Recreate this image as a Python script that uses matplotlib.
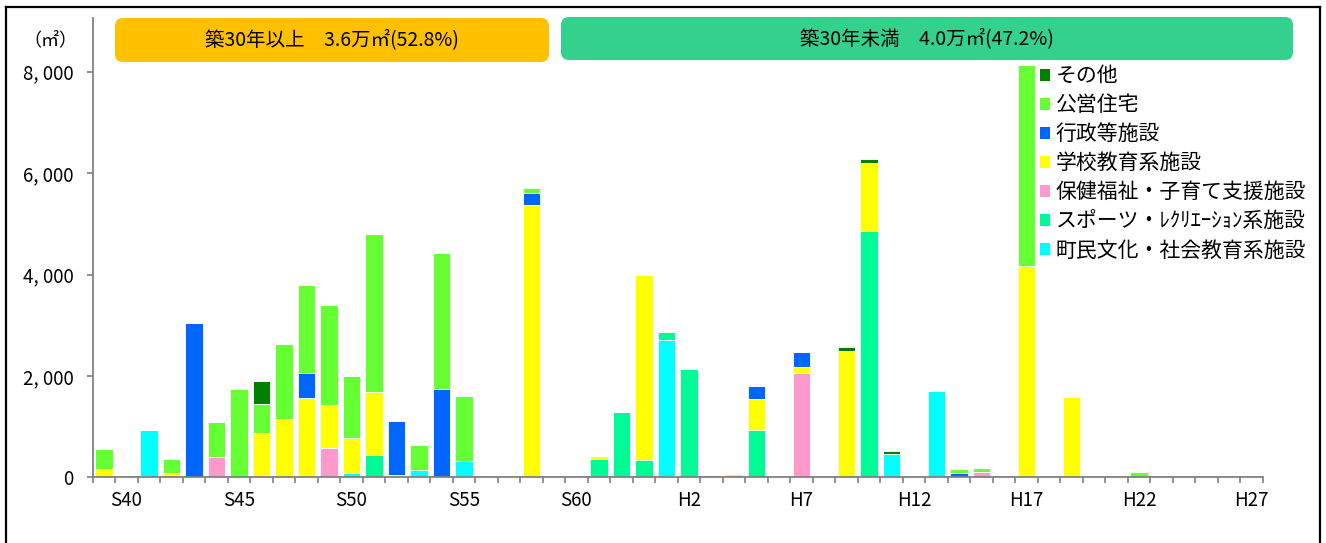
"""plot.py - floor area of public facilities by construction year (stacked bars)."""
import matplotlib
matplotlib.use("Agg")
import matplotlib.pyplot as plt
from matplotlib.patches import FancyBboxPatch, Patch
from matplotlib.lines import Line2D
import numpy as np

plt.rcParams["font.family"] = ["Noto Sans CJK JP", "DejaVu Sans"]

# categories: S39 .. S63, H1 .. H27 (one bar per year)
years = [f"S{n}" for n in range(39, 64)] + [f"H{n}" for n in range(1, 28)]
tick_years = ["S40", "S45", "S50", "S55", "S60", "H2", "H7", "H12", "H17", "H22", "H27"]

# values in m2 (index 0 = S39)
culture = [0, 0, 930, 0, 0, 0, 0, 0, 0, 0, 0, 80, 0,
           0, 140, 0, 315, 0, 0, 0, 0, 0, 0, 0, 0, 2700,
           0, 0, 0, 0, 0, 0, 0, 0, 0, 455, 0, 1700, 0,
           0, 0, 0, 0, 0, 0, 0, 0, 0, 0, 0, 0, 0]
sports = [0, 0, 0, 0, 0, 0, 0, 0, 0, 0, 0, 0, 445,
          0, 0, 0, 0, 0, 0, 0, 0, 0, 365, 1280, 335, 170,
          2135, 40, 0, 935, 0, 0, 0, 0, 4865, 0, 0, 0, 0,
          0, 0, 0, 0, 0, 0, 0, 0, 0, 0, 0, 0, 0]
welfare = [0, 0, 0, 0, 0, 410, 0, 0, 0, 0, 585, 0, 0,
           0, 0, 0, 0, 0, 0, 0, 0, 0, 0, 0, 0, 0,
           0, 0, 0, 0, 0, 2065, 0, 0, 0, 0, 0, 0, 0,
           110, 0, 0, 0, 0, 0, 0, 0, 0, 0, 0, 0, 0]
school = [170, 0, 0, 85, 0, 0, 0, 875, 1150, 1570, 840, 690, 1235,
          40, 0, 0, 0, 0, 0, 5370, 0, 0, 55, 0, 3655, 0,
          0, 0, 65, 615, 0, 115, 0, 2490, 1340, 0, 0, 0, 0,
          0, 0, 4165, 0, 1590, 0, 0, 0, 0, 0, 0, 0, 0]
admin = [0, 0, 0, 0, 3040, 0, 0, 0, 0, 495, 0, 0, 0,
         1065, 0, 1735, 0, 0, 0, 245, 0, 0, 0, 0, 0, 0,
         0, 0, 0, 245, 0, 295, 0, 0, 0, 0, 0, 0, 80,
         0, 0, 0, 0, 0, 0, 0, 0, 0, 0, 0, 0, 0]
housing = [394, 0, 0, 275, 0, 680, 1735, 565, 1485, 1735, 1965, 1225, 3115,
           0, 490, 2695, 1290, 0, 0, 85, 0, 0, 0, 0, 0, 0,
           0, 0, 0, 0, 0, 0, 0, 0, 0, 0, 0, 0, 80,
           65, 0, 3965, 0, 0, 0, 0, 105, 0, 0, 0, 0, 0]
other = [0, 0, 0, 0, 0, 0, 0, 455, 0, 0, 0, 0, 0,
         0, 0, 0, 0, 0, 0, 0, 0, 0, 0, 0, 0, 0,
         0, 0, 0, 0, 0, 0, 0, 75, 65, 60, 0, 0, 0,
         0, 0, 0, 0, 0, 0, 0, 0, 0, 0, 0, 0, 0]

# bottom to top
series = [
    ("町民文化・社会教育系施設", culture, "#00FFFF"),
    ("スポーツ・ﾚｸﾘｴｰｼｮﾝ系施設", sports, "#00FA96"),
    ("保健福祉・子育て支援施設", welfare, "#FF99CC"),
    ("学校教育系施設", school, "#FFFF00"),
    ("行政等施設", admin, "#0066FF"),
    ("公営住宅", housing, "#66FF33"),
    ("その他", other, "#008000"),
]

W, H = 1326, 543
fig = plt.figure(figsize=(W / 100, H / 100), dpi=100)
ax = fig.add_axes([92.7 / W, (H - 477.3) / H, 1170 / W, (477.3 - 18) / H])

x = np.arange(len(years))
bottom = np.zeros(len(years))
handles = []
for label, vals, color in series:
    vals = np.array(vals, dtype=float)
    ax.bar(x, vals, width=0.77, bottom=bottom, color=color,
           edgecolor="white", linewidth=0.6)
    bottom += vals
    handles.append(Patch(facecolor=color, edgecolor="none", label=label))

ax.set_xlim(-0.5, len(years) - 0.5)
ax.set_ylim(0, 9060)

gray = "#808080"
for side in ("top", "right"):
    ax.spines[side].set_visible(False)
for side in ("left", "bottom"):
    ax.spines[side].set_color(gray)
    ax.spines[side].set_linewidth(1.3)

# category boundaries as tick marks, labels every 5 years
ax.set_xticks(np.arange(len(years) + 1) - 0.5)
ax.set_xticklabels([])
ax.set_xticks([years.index(t) for t in tick_years], minor=True)
ax.set_xticklabels(tick_years, minor=True, fontsize=13.5)
ax.tick_params(axis="x", which="major", direction="out", length=4, width=1.2, color=gray)
ax.tick_params(axis="x", which="minor", length=0, pad=9)

yt = [0, 2000, 4000, 6000, 8000]
ax.set_yticks(yt)
ax.set_yticklabels(["0" if v == 0 else f"{v // 1000}, {v % 1000:03d}" for v in yt], fontsize=13.5)
ax.tick_params(axis="y", direction="out", length=4, width=1.2, color=gray, pad=10)

leg = fig.legend(handles=handles[::-1], loc="upper left",
                 bbox_to_anchor=(1040 / W, (H - 65) / H), frameon=False,
                 fontsize=15, handlelength=0.5, handleheight=0.5,
                 handletextpad=0.25, labelspacing=0.34, borderpad=0, borderaxespad=0)

# banners above the bars
inch = fig.dpi_scale_trans
banners = [
    (115, 549, 18, 62, "#FFC000", "築30年以上　3.6万㎡(52.8%)"),
    (561, 1293, 17, 60, "#33D18B", "築30年未満　4.0万㎡(47.2%)"),
]
for x0, x1, y0, y1, color, text in banners:
    box = FancyBboxPatch((x0 / 100, (H - y1) / 100), (x1 - x0) / 100, (y1 - y0) / 100,
                         boxstyle="round,pad=0,rounding_size=0.08", transform=inch,
                         facecolor=color, edgecolor="none")
    fig.patches.append(box)
    fig.text((x0 + x1) / 2 / W, 1 - (y0 + y1) / 2 / H, text, ha="center", va="center",
             fontsize=14)

fig.text(50 / W, 1 - 40 / H, "（㎡）", ha="center", va="center", fontsize=13)

# outer frame of the figure panel
frame = dict(color="black", linewidth=1.6, transform=fig.transFigure)
fig.lines.append(Line2D([6 / W, 6 / W], [0, 1 - 7 / H], **frame))
fig.lines.append(Line2D([6 / W, 1320 / W], [1 - 7 / H, 1 - 7 / H], **frame))
fig.lines.append(Line2D([1320 / W, 1320 / W], [0, 1 - 7 / H], **frame))

fig.savefig("out.png", dpi=100)
